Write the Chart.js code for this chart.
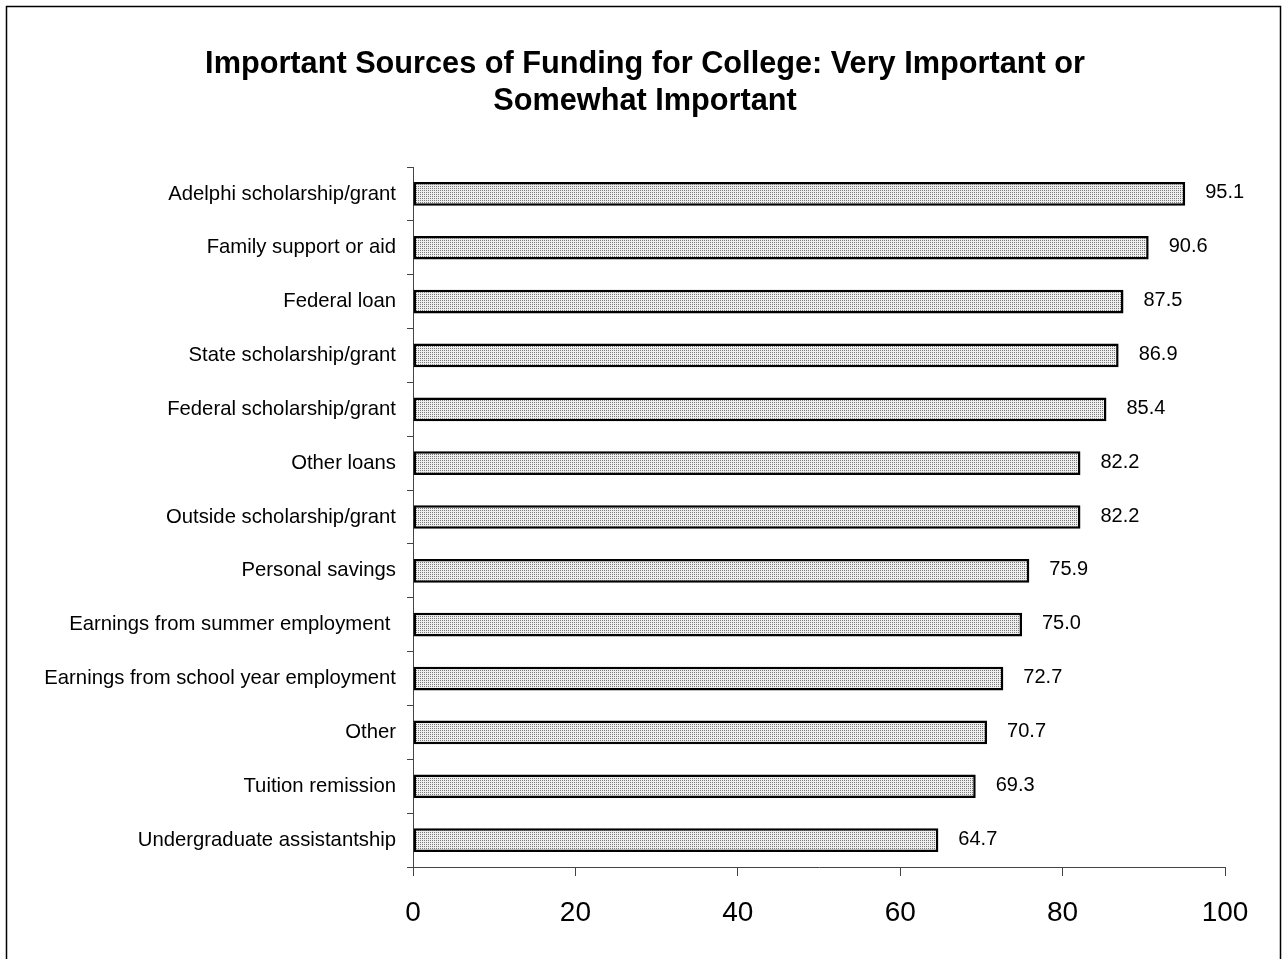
<!DOCTYPE html>
<html>
<head>
<meta charset="utf-8">
<script src="https://cdn.jsdelivr.net/npm/chart.js@4/dist/chart.umd.min.js"></script>
<style>
    html, body { margin: 0; padding: 0; background: #fff; }
    #wrap { width: 1287px; height: 959px; position: relative; }
    canvas { display: block; }
</style>
</head>
<body>
<div id="wrap"><canvas id="funding-bar-chart" width="1287" height="959"></canvas></div>
<script>
(function () {
    "use strict";

    const categories = [
        "Adelphi scholarship/grant",
        "Family support or aid",
        "Federal loan",
        "State scholarship/grant",
        "Federal scholarship/grant",
        "Other loans",
        "Outside scholarship/grant",
        "Personal savings",
        "Earnings from summer employment ",
        "Earnings from school year employment",
        "Other",
        "Tuition remission",
        "Undergraduate assistantship",
    ];
    const percentValues = [95.1, 90.6, 87.5, 86.9, 85.4, 82.2, 82.2, 75.9, 75.0, 72.7, 70.7, 69.3, 64.7];
    const xTicks = [0, 20, 40, 60, 80, 100];
    const titleLines = [
        "Important Sources of Funding for College: Very Important or",
        "Somewhat Important",
    ];

    const FONT = "Arial, 'Liberation Sans', sans-serif";

    // dotted fill like the old Excel pattern
    const makePattern = () => {
        const p = document.createElement("canvas");
        p.width = 2;
        p.height = 2;
        const c = p.getContext("2d");
        c.fillStyle = "#eeeeee";
        c.fillRect(0, 0, 2, 2);
        c.fillStyle = "#7a7a7a";
        c.fillRect(0, 0, 1, 1);
        return c.createPattern(p, "repeat");
    };

    // outer frame + title
    const framePlugin = {
        id: "frame",
        beforeDraw(chart) {
            const ctx = chart.ctx;
            ctx.save();
            ctx.fillStyle = "#fff";
            ctx.fillRect(0, 0, chart.width, chart.height);
            ctx.strokeStyle = "#000";
            ctx.lineWidth = 1.5;
            ctx.strokeRect(6.5, 6.5, 1274, 980);
            ctx.fillStyle = "#000";
            ctx.font = "bold 30.7px " + FONT;
            ctx.textAlign = "center";
            ctx.textBaseline = "middle";
            titleLines.forEach((line, i) => {
                ctx.fillText(line, 645, 65 + i * 37);
            });
            ctx.restore();
        },
    };

    // value labels right of each bar
    const valueLabels = {
        id: "valueLabels",
        afterDatasetsDraw(chart) {
            const ctx = chart.ctx;
            const meta = chart.getDatasetMeta(0);
            ctx.save();
            ctx.fillStyle = "#000";
            ctx.font = "20px " + FONT;
            ctx.textAlign = "left";
            ctx.textBaseline = "middle";
            meta.data.forEach((bar, i) => {
                ctx.fillText(percentValues[i].toFixed(1), bar.x + 20, bar.y - 1);
            });
            ctx.restore();
        },
    };

    const ctx = document.getElementById("funding-bar-chart").getContext("2d");
    const fundingChart = new Chart(ctx, {
        type: "bar",
        data: {
            labels: categories,
            datasets: [
                {
                    data: percentValues,
                    backgroundColor: makePattern(),
                    borderColor: "#000",
                    borderWidth: 2.5,
                    borderSkipped: false,
                    categoryPercentage: 0.44,
                    barPercentage: 1,
                },
            ],
        },
        options: {
            indexAxis: "y",
            responsive: false,
            maintainAspectRatio: false,
            animation: false,
            devicePixelRatio: 1,
            layout: {
                padding: { top: 167, left: 6, right: 62, bottom: 0 },
            },
            scales: {
                x: {
                    min: 0,
                    max: 100,
                    afterBuildTicks: (scale) => {
                        scale.ticks = xTicks.map((v) => ({ value: v }));
                    },
                    afterFit: (scale) => {
                        scale.height = 92;
                    },
                    grid: {
                        drawOnChartArea: false,
                        drawTicks: true,
                        tickLength: 9,
                        color: "#444",
                    },
                    border: { display: true, color: "#444", width: 1 },
                    ticks: {
                        color: "#000",
                        font: { family: FONT, size: 28 },
                        padding: 20,
                    },
                },
                y: {
                    afterFit: (scale) => {
                        scale.width = 407;
                    },
                    grid: {
                        offset: true,
                        drawOnChartArea: false,
                        drawTicks: true,
                        tickLength: 6,
                        color: "#444",
                    },
                    border: { display: true, color: "#444", width: 1 },
                    ticks: {
                        color: "#000",
                        font: { family: FONT, size: 20.3 },
                        padding: 11,
                        autoSkip: false,
                    },
                },
            },
            plugins: {
                legend: { display: false },
                tooltip: { enabled: false },
                title: { display: false },
            },
        },
        plugins: [framePlugin, valueLabels],
    });
})();
</script>
</body>
</html>
